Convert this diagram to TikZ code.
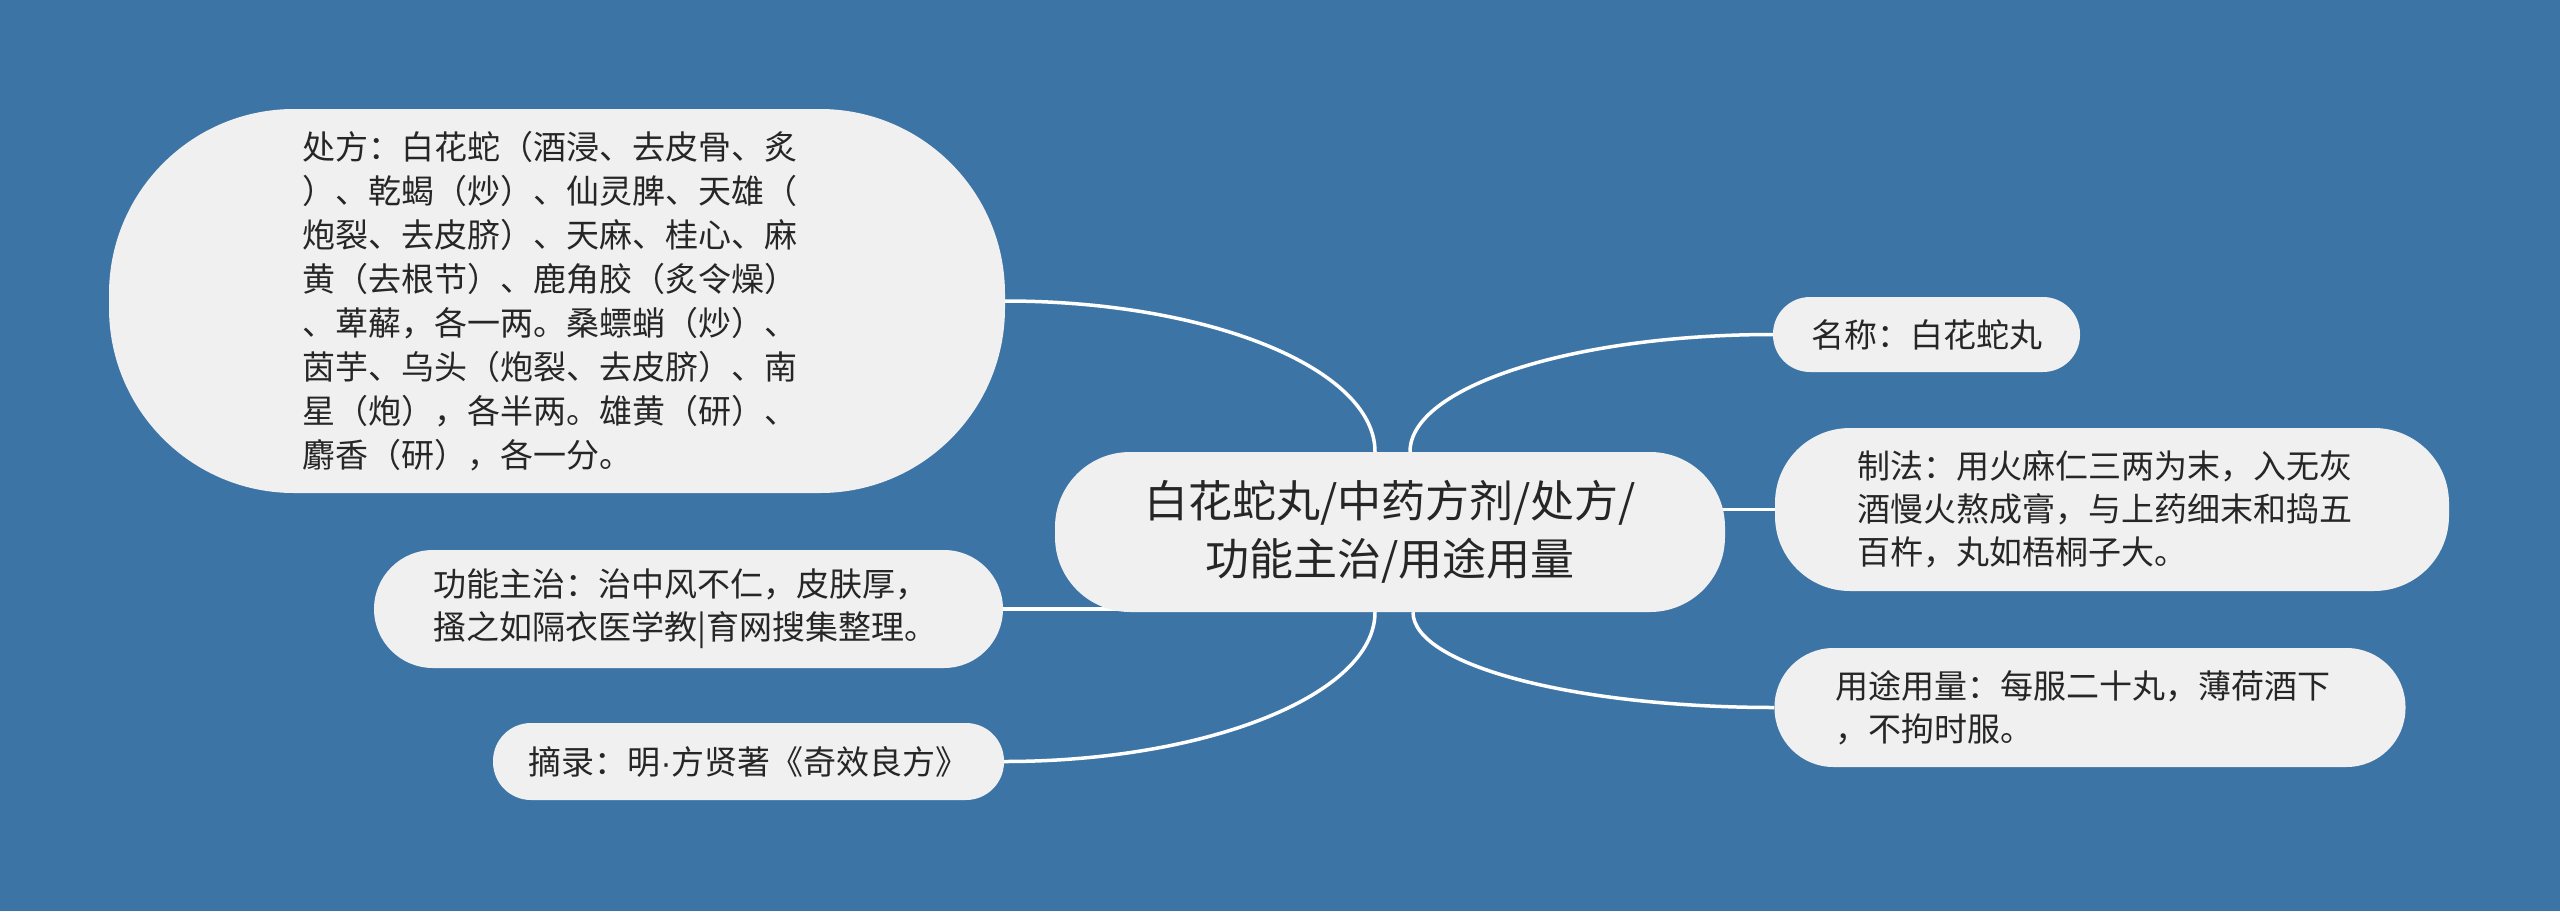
\documentclass[tikz,border=0pt]{standalone}
\usepackage{fontspec}
\setmainfont{Noto Sans CJK SC}
\newfontfamily\latinfont{Liberation Sans}
\usetikzlibrary{backgrounds,calc}
\definecolor{bg}{HTML}{3D74A6}
\definecolor{nodefill}{HTML}{F0F0F0}
\definecolor{txt}{HTML}{262626}
\begin{document}
\begin{tikzpicture}[x=1pt,y=-1pt,
  box/.style={fill=nodefill, text=txt, inner sep=0pt, font=\fontsize{33}{43}\selectfont},
  para/.style={align=left, text width=510pt},
  link/.style={draw=white, line width=3.5pt}]
\useasboundingbox (0,0) rectangle (2560,911);

\node[box, para, minimum width=896pt, minimum height=384pt, rounded corners=185pt, font=\fontsize{33}{44}\selectfont] (big) at (557,301)
{处方：白花蛇（酒浸、去皮骨、炙\\）、乾蝎（炒）、仙灵脾、天雄（\\炮裂、去皮脐）、天麻、桂心、麻\\黄（去根节）、鹿角胶（炙令燥）\\、萆薢，各一两。桑螵蛸（炒）、\\茵芋、乌头（炮裂、去皮脐）、南\\星（炮），各半两。雄黄（研）、\\麝香（研），各一分。};

\node[box, align=center, text width=600pt, minimum width=670pt, minimum height=160pt, rounded corners=75pt, font=\fontsize{44}{58}\selectfont] (c) at (1390,532)
{白花蛇丸/中药方剂/处方/\\功能主治/用途用量};

\node[box, minimum width=307pt, minimum height=75pt, rounded corners=37pt] (mc) at (1926.5,334.5) {名称：白花蛇丸};

\node[box, para, minimum width=674pt, minimum height=163pt, rounded corners=75pt] (zf) at (2112,509.5)
{制法：用火麻仁三两为末，入无灰\\酒慢火熬成膏，与上药细末和捣五\\百杵，丸如梧桐子大。};

\node[box, para, minimum width=631pt, minimum height=119pt, rounded corners=59pt] (yt) at (2090,707.5)
{用途用量：每服二十丸，薄荷酒下\\，不拘时服。};

\node[box, para, minimum width=629pt, minimum height=118pt, rounded corners=59pt] (gn) at (688.5,609)
{功能主治：治中风不仁，皮肤厚，\\搔之如隔衣医学教|育网搜集整理。};

\node[box, minimum width=511pt, minimum height=77pt, rounded corners=38pt] (zl) at (748.5,761.5) {摘录：明{\latinfont ·}方贤著《奇效良方》};

\begin{scope}[on background layer]
\fill[bg] (0,0) rectangle (2560,911);
\draw[link] ([xshift=-15pt]c.north) .. controls +(0,-83) and +(204,0) .. (big.east);
\draw[link] ([xshift=20pt]c.north) .. controls +(0,-65) and +(-200,0) .. (mc.west);
\draw[link] (zf.west) -- ($(zf.west -| c.east)+(-40,0)$);
\draw[link] (gn.east) -- ($(gn.east -| c.west)+(80,0)$);
\draw[link] ([xshift=-15pt]c.south) .. controls +(0,82) and +(204,0) .. (zl.east);
\draw[link] ([xshift=23pt]c.south) .. controls +(0,53) and +(-199,0) .. (yt.west);
\end{scope}
\end{tikzpicture}
\end{document}
